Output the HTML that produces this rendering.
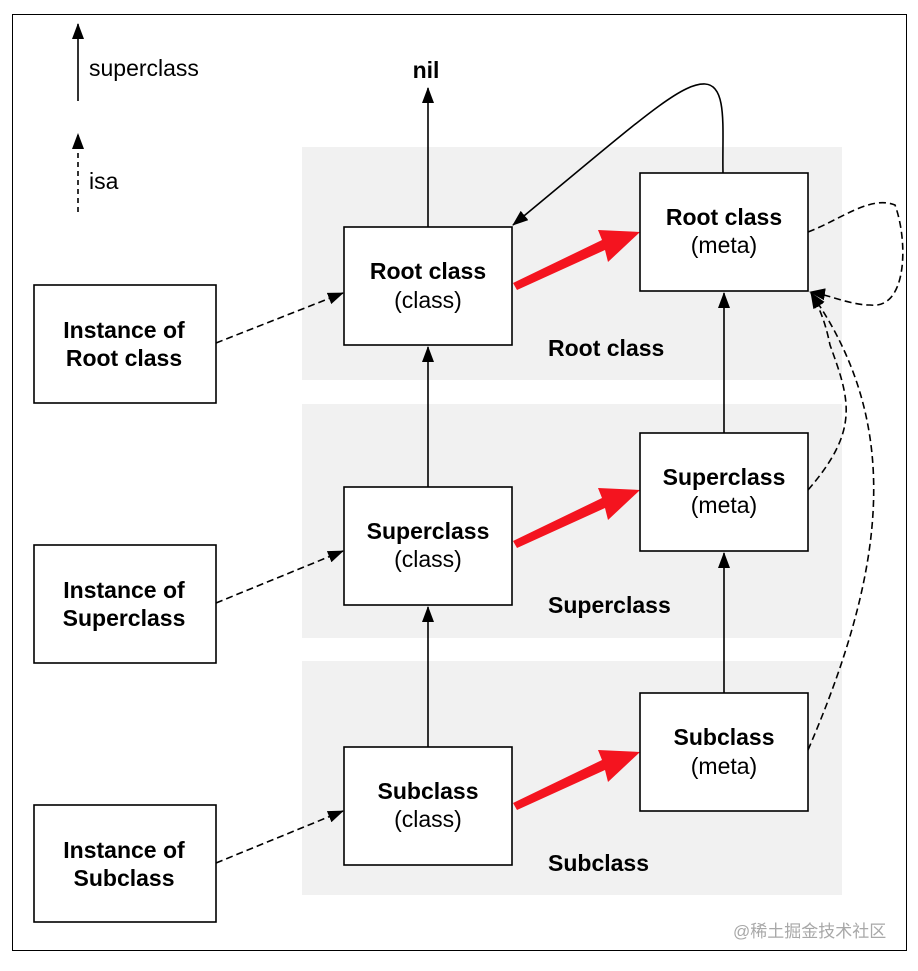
<!DOCTYPE html>
<html><head><style>
body{margin:0;background:#fff;}
svg text{font-family:"Liberation Sans","Noto Sans CJK SC",sans-serif;}
</style></head><body>
<svg width="918" height="966" viewBox="0 0 918 966" xmlns="http://www.w3.org/2000/svg">
<defs>
<marker id="b" markerWidth="16" markerHeight="12" refX="15" refY="6" orient="auto" markerUnits="userSpaceOnUse" viewBox="0 0 16 12"><path d="M0,0 L16,6 L0,12 z" fill="#000"/></marker>
</defs>
<rect x="12.5" y="14.5" width="894" height="936" fill="#fff" stroke="#000" stroke-width="1"/>
<rect x="302" y="147" width="540" height="233" fill="#f1f1f1"/>
<rect x="302" y="404" width="540" height="234" fill="#f1f1f1"/>
<rect x="302" y="661" width="540" height="234" fill="#f1f1f1"/>
<g stroke="#000" stroke-width="1.6" fill="none">
<line x1="78" y1="101" x2="78" y2="24" marker-end="url(#b)"/>
<line x1="78" y1="212" x2="78" y2="134" stroke-dasharray="5,4" marker-end="url(#b)"/>
<line x1="428" y1="227" x2="428" y2="88" marker-end="url(#b)"/>
<line x1="428" y1="487" x2="428" y2="347" marker-end="url(#b)"/>
<line x1="428" y1="747" x2="428" y2="607" marker-end="url(#b)"/>
<line x1="724" y1="433" x2="724" y2="293" marker-end="url(#b)"/>
<line x1="724" y1="693" x2="724" y2="553" marker-end="url(#b)"/>
<path d="M723,173 C722,130 728,85 705,84 C680,83 640,120 513,225" marker-end="url(#b)"/>
<g stroke-dasharray="7,4">
<line x1="216" y1="343" x2="343" y2="293" marker-end="url(#b)"/>
<line x1="216" y1="603" x2="343" y2="551" marker-end="url(#b)"/>
<line x1="216" y1="863" x2="343" y2="811" marker-end="url(#b)"/>
<path d="M808,232 C840,220 870,195 895,205 C908,240 908,310 870,305 C850,305 830,295 810,292" marker-end="url(#b)"/>
<path d="M808,490 C860,430 850,400 830,345 C825,320 818,305 811,293" marker-end="url(#b)"/>
<path d="M808,750 C890,560 900,420 811,293" marker-end="url(#b)"/>
</g>
</g>
<g fill="#f4141f">
<polygon points="513,283 517,290 605,250 608,262 640,232 598,230 602,240"/>
<polygon points="513,541 517,548 605,508 608,520 640,490 598,488 602,498"/>
<polygon points="513,803 517,810 605,770 608,782 640,752 598,750 602,760"/>
</g>
<g fill="#fff" stroke="#000" stroke-width="1.6">
<rect x="344" y="227" width="168" height="118"/>
<rect x="344" y="487" width="168" height="118"/>
<rect x="344" y="747" width="168" height="118"/>
<rect x="640" y="173" width="168" height="118"/>
<rect x="640" y="433" width="168" height="118"/>
<rect x="640" y="693" width="168" height="118"/>
<rect x="34" y="285" width="182" height="118"/>
<rect x="34" y="545" width="182" height="118"/>
<rect x="34" y="805" width="182" height="117"/>
</g>
<g font-size="23" text-anchor="middle" fill="#000">
<text x="428" y="279" font-weight="bold">Root class</text><text x="428" y="308">(class)</text>
<text x="428" y="539" font-weight="bold">Superclass</text><text x="428" y="567">(class)</text>
<text x="428" y="799" font-weight="bold">Subclass</text><text x="428" y="827">(class)</text>
<text x="724" y="225" font-weight="bold">Root class</text><text x="724" y="253">(meta)</text>
<text x="724" y="485" font-weight="bold">Superclass</text><text x="724" y="513">(meta)</text>
<text x="724" y="745" font-weight="bold">Subclass</text><text x="724" y="774">(meta)</text>
<g font-weight="bold">
<text x="124" y="338">Instance of</text><text x="124" y="366">Root class</text>
<text x="124" y="598">Instance of</text><text x="124" y="626">Superclass</text>
<text x="124" y="858">Instance of</text><text x="124" y="886">Subclass</text>
<text x="426" y="78">nil</text>
</g>
</g>
<g font-size="23" font-weight="bold" fill="#000">
<text x="548" y="356">Root class</text>
<text x="548" y="613">Superclass</text>
<text x="548" y="871">Subclass</text>
</g>
<text x="89" y="76" font-size="23">superclass</text>
<text x="89" y="189" font-size="23">isa</text>
<text x="733" y="937" font-size="17" fill="#a8a8a8">@稀土掘金技术社区</text>
</svg>
</body></html>
